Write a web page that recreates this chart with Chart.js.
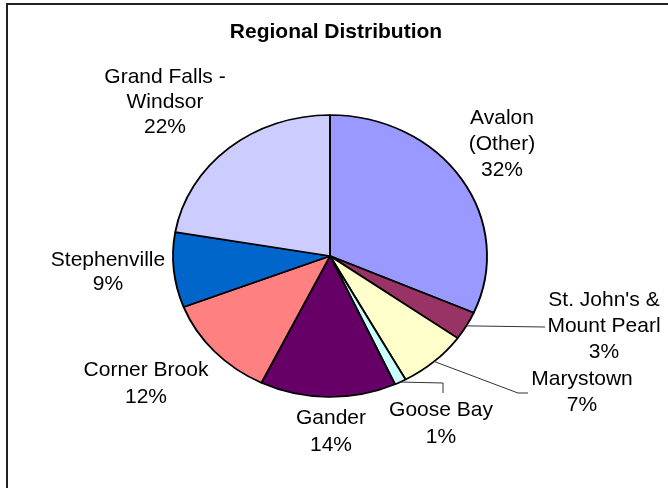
<!DOCTYPE html>
<html>
<head>
<meta charset="utf-8">
<title>Regional Distribution</title>
<script src="https://cdn.jsdelivr.net/npm/chart.js@4.4.0/dist/chart.umd.min.js"></script>
<style>
  html, body { margin: 0; padding: 0; background: #fff; overflow: hidden; }
  #wrap { position: relative; width: 668px; height: 488px; overflow: hidden; }
  #frame { position: absolute; left: 6px; top: 3px; width: 700px; height: 600px;
           border-top: 2px solid #222; border-left: 2px solid #222; }
  canvas { position: absolute; left: 0; top: 0; }
</style>
</head>
<body>
<div id="wrap">
  <div id="frame"></div>
  <canvas id="pie" width="668" height="488"></canvas>
</div>
<script>
/* data */
const regions = ['Avalon (Other)', "St. John's & Mount Pearl", 'Marystown', 'Goose Bay',
  'Gander', 'Corner Brook', 'Stephenville', 'Grand Falls - Windsor'];
const shares = [31.6, 3.3, 7.1, 1.2, 14.0, 11.9, 8.6, 22.3];
const labelLines = [['Avalon', '(Other)'], ["St. John's &", 'Mount Pearl'], ['Marystown'], ['Goose Bay'],
  ['Gander'], ['Corner Brook'], ['Stephenville'], ['Grand Falls -', 'Windsor']];

/* look */
const sliceColors = ['#9999FF', '#993366', '#FFFFCC', '#CCFFFF', '#660066', '#FF8080', '#0066CC', '#CCCCFF'];
const FONT = '"Liberation Sans", Arial, sans-serif';
const stretchX = 157 / 141;   // the original pie is a bit wider than tall

// label anchor: centre x, first line y, line step
const labelPos = [
  { x: 502, y: 118, step: 26 },
  { x: 604, y: 300, step: 26 },
  { x: 582, y: 379, step: 26 },
  { x: 441, y: 410, step: 27 },
  { x: 331, y: 418, step: 27 },
  { x: 146, y: 370, step: 27 },
  { x: 108, y: 260, step: 24 },
  { x: 165, y: 77, step: 25 }
];
// leader line bends / ends (start is taken from the slice itself)
const leaders = {
  1: [[545, 327]],
  2: [[518, 393], [528, 393]],
  3: [[443, 383], [443, 393]]
};

const total = shares.reduce((a, b) => a + b, 0);

const ellipse = {
  id: 'ellipse',
  beforeDatasetsDraw(chart) {
    const arc = chart.getDatasetMeta(0).data[0];
    const c = chart.ctx;
    c.save();
    c.translate(arc.x, 0);
    c.scale(stretchX, 1);
    c.translate(-arc.x, 0);
  },
  afterDatasetsDraw(chart) {
    chart.ctx.restore();
  }
};

const texts = {
  id: 'texts',
  afterDraw(chart) {
    const c = chart.ctx;
    const arcs = chart.getDatasetMeta(0).data;
    c.save();
    // title
    c.fillStyle = '#000';
    c.textAlign = 'center';
    c.textBaseline = 'middle';
    c.font = 'bold 21px ' + FONT;
    c.fillText('Regional Distribution', 336, 32);

    // leader lines
    c.strokeStyle = '#333';
    c.lineWidth = 1;
    Object.keys(leaders).forEach(k => {
      const a = arcs[k];
      const mid = (a.startAngle + a.endAngle) / 2;
      const r = a.outerRadius;
      c.beginPath();
      c.moveTo(a.x + r * stretchX * Math.cos(mid), a.y + r * Math.sin(mid));
      leaders[k].forEach(p => c.lineTo(p[0], p[1]));
      c.stroke();
    });

    // labels
    c.font = '21px ' + FONT;
    labelLines.forEach((lines, i) => {
      const pos = labelPos[i];
      const all = lines.concat([Math.round(shares[i] / total * 100) + '%']);
      all.forEach((t, j) => c.fillText(t, pos.x, pos.y + j * pos.step));
    });
    c.restore();
  }
};

new Chart(document.getElementById('pie'), {
  type: 'pie',
  data: {
    labels: regions,
    datasets: [{
      data: shares,
      backgroundColor: sliceColors,
      borderColor: '#000',
      borderWidth: 1.7
    }]
  },
  options: {
    responsive: false,
    animation: false,
    events: [],
    radius: 141,
    layout: { padding: { left: 0, right: 8, top: 24, bottom: 0 } },
    plugins: {
      legend: { display: false },
      tooltip: { enabled: false }
    }
  },
  plugins: [ellipse, texts]
});
</script>
</body>
</html>
